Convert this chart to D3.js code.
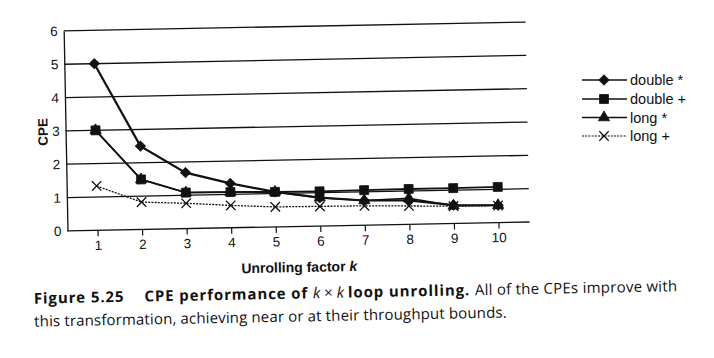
<!DOCTYPE html>
<html><head><meta charset="utf-8">
<script src="https://cdn.jsdelivr.net/npm/d3@7"></script>
<style>body{margin:0;background:#fff}svg{display:block}</style>
</head><body>
<svg id="c" width="714" height="358"></svg>
<script>
const categories = [1,2,3,4,5,6,7,8,9,10];
const doubleMul = [5.0, 2.5, 1.68, 1.33, 1.05, 0.85, 0.74, 0.72, 0.55, 0.52];
const doubleAdd = [3.0, 1.5, 1.08, 1.07, 1.05, 1.04, 1.05, 1.06, 1.06, 1.07];
const longMul   = [3.0, 1.5, 1.08, 1.07, 1.05, 0.85, 0.74, 0.78, 0.53, 0.52];
const longAdd   = [1.33, 0.82, 0.76, 0.67, 0.6, 0.59, 0.58, 0.55, 0.52, 0.51];
const yTicks = [0,1,2,3,4,5,6];
const seriesNames = ["double *","double +","long *","long +"];

const series = [
  {name: seriesNames[0], values: doubleMul, sym: d3.symbolDiamond2, w: 2.2, dash: null, size: 70},
  {name: seriesNames[1], values: doubleAdd, sym: d3.symbolSquare, w: 1.8, dash: null, size: 80},
  {name: seriesNames[2], values: longMul, sym: d3.symbolTriangle, w: 1.5, dash: null, size: 55},
  {name: seriesNames[3], values: longAdd, sym: d3.symbolX, w: 1.3, dash: "2,1.2", size: 60}
];

const svg = d3.select("#c");
const ink = "#111";
const sans = "Liberation Sans, Arial, sans-serif";
const g = svg.append("g").attr("transform", "rotate(-1.1,300,150)");

const x = d3.scalePoint().domain(categories).range([96, 497]);
const y = d3.scaleLinear().domain([0, 6]).range([226.4, 26.4]);
const left = 66, right = 528;

// gridlines
g.selectAll("line.grid").data(yTicks).join("line")
  .attr("x1", left).attr("x2", right)
  .attr("y1", d => y(d)).attr("y2", d => y(d))
  .attr("stroke", ink).attr("stroke-width", 1.3);

// y axis
const yAxis = d3.axisLeft(y).tickValues(yTicks).tickFormat(d3.format("d")).tickSize(0).tickPadding(6);
const ya = g.append("g").attr("transform", `translate(${left},0)`).call(yAxis);
ya.select(".domain").attr("stroke", ink).attr("stroke-width", 1.3);
ya.selectAll("text").attr("font-family", sans).attr("font-size", 13.5).attr("fill", ink);

// x axis
const xAxis = d3.axisBottom(x).tickSize(6).tickPadding(4);
const xa = g.append("g").attr("transform", `translate(0,${y(0)})`).call(xAxis);
xa.select(".domain").remove();
xa.selectAll("line").attr("stroke", ink).attr("stroke-width", 1.2);
xa.selectAll("text").attr("font-family", sans).attr("font-size", 13.5).attr("fill", ink);

// series lines
const line = d3.line().x((d,i) => x(categories[i])).y(d => y(d));
const order = [3,2,1,0];
order.forEach(k => {
  const s = series[k];
  g.append("path").datum(s.values).attr("d", line)
    .attr("fill","none").attr("stroke", ink).attr("stroke-width", s.w)
    .attr("stroke-dasharray", s.dash);
});
order.forEach(k => {
  const s = series[k];
  const sym = d3.symbol().type(s.sym).size(s.size);
  g.selectAll(null).data(s.values).join("path")
    .attr("d", sym)
    .attr("transform", (d,i) => `translate(${x(categories[i])},${y(d)})`)
    .attr("fill", k===3 ? "none" : ink)
    .attr("stroke", ink).attr("stroke-width", k===3 ? 1.3 : 0.8);
});

// axis titles
g.append("text").attr("transform", "translate(48,127) rotate(-90)")
  .attr("text-anchor","middle")
  .attr("font-family", sans).attr("font-weight","bold")
  .attr("font-size", 13.5).attr("fill", ink).text("CPE");
const xt = g.append("text").attr("x", 297).attr("y", 272).attr("text-anchor","middle")
  .attr("font-family", sans).attr("font-weight","bold")
  .attr("font-size", 14).attr("fill", ink);
xt.append("tspan").text("Unrolling factor ");
xt.append("tspan").attr("font-style","italic").text("k");

// caption (words as separate tspans)
const capFont = "Open Sans, Noto Sans, sans-serif";
function words(textSel, str, attrs, first) {
  const parts = str.split(" ").filter(w => w.length);
  parts.forEach((w, i) => {
    const t = textSel.append("tspan").text(w + (i < parts.length - 1 || attrs.trail ? " " : ""));
    if (attrs.weight) t.attr("font-weight", attrs.weight);
    if (attrs.italic) t.attr("font-style", "italic");
    if (attrs.ls) t.attr("letter-spacing", attrs.ls);
    if (i === 0 && attrs.dx) t.attr("dx", attrs.dx);
  });
}
const c1 = g.append("text").attr("x", 31).attr("y", 298.5)
  .attr("font-family", capFont).attr("font-size", 15).attr("fill", ink);
words(c1, "Figure 5.25", {weight: 700, ls: 0.9});
words(c1, "CPE performance of", {weight: 700, ls: 0.9, dx: 20, trail: true});
c1.append("tspan").attr("font-style","italic").text("k");
c1.append("tspan").text(" × ");
c1.append("tspan").attr("font-style","italic").text("k");
c1.append("tspan").text(" ");
words(c1, "loop unrolling.", {weight: 700, ls: 0.9, trail: true});
words(c1, "All of the CPEs improve with", {ls: 0.25});
const c2 = g.append("text").attr("x", 31).attr("y", 321.5)
  .attr("font-family", capFont).attr("font-size", 15).attr("fill", ink);
words(c2, "this transformation, achieving near or at their throughput bounds.", {ls: 0.15});

// legend
const lg = svg.append("g");
const rowY = [80, 99, 117.5, 136];
series.forEach((s, i) => {
  const r = lg.append("g").attr("transform", `translate(0,${rowY[i]})`);
  r.append("line").attr("x1", 582).attr("x2", 627).attr("y1", 0).attr("y2", 0)
    .attr("stroke", ink).attr("stroke-width", i===3 ? 1.1 : 1.6).attr("stroke-dasharray", s.dash);
  r.append("path").attr("d", d3.symbol().type(s.sym).size(s.size))
    .attr("transform", "translate(604,0)")
    .attr("fill", i===3 ? "none" : ink).attr("stroke", ink).attr("stroke-width", i===3 ? 1.2 : 0.8);
  r.append("text").attr("x", 630).attr("y", 5)
    .attr("font-family", sans).attr("font-size", 14.5).attr("fill", ink)
    .text(s.name);
});
</script>
</body></html>
